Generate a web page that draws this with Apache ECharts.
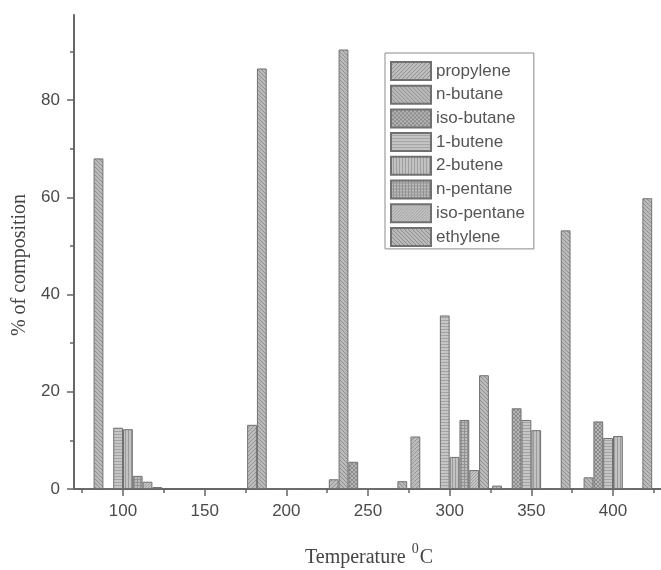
<!DOCTYPE html>
<html>
<head>
<meta charset="utf-8">
<script src="https://cdn.jsdelivr.net/npm/echarts@6/dist/echarts.min.js"></script>
<style>
html,body{margin:0;padding:0;background:#fff;}
#chart{width:661px;height:570px;}
</style>
</head>
<body>
<div id="chart"></div>
<script>
// ---- data ----
const temps = [100, 200, 250, 300, 350, 400];
const seriesNames = ['propylene','n-butane','iso-butane','1-butene','2-butene','n-pentane','iso-pentane','ethylene'];
const propylene  = [0, 13.2, 2.0, 10.8, 0.7, 0];
const nButane    = [68.0, 86.5, 90.4, 0, 0, 2.4];
const isoButane  = [0, 0, 5.6, 0, 16.6, 13.9];
const butene1    = [12.6, 0, 0, 35.7, 14.2, 10.5];
const butene2    = [12.3, 0, 0, 6.6, 12.1, 10.9];
const nPentane   = [2.7, 0, 0, 14.2, 0, 0];
const isoPentane = [1.5, 0.2, 0, 3.9, 0, 0];
const ethylene   = [0.4, 0, 1.6, 23.4, 53.2, 59.8];
const xTicksMajor = [100, 150, 200, 250, 300, 350, 400];
const yTicksMajor = [0, 20, 40, 60, 80];

const allValues = [propylene, nButane, isoButane, butene1, butene2, nPentane, isoPentane, ethylene];

// ---- hatch patterns ----
function makePattern(kind, step, bg, fg) {
  const c = document.createElement('canvas');
  c.width = step; c.height = step;
  const g = c.getContext('2d');
  g.fillStyle = bg; g.fillRect(0, 0, step, step);
  g.strokeStyle = fg; g.lineWidth = 1;
  const n = step;
  g.beginPath();
  if (kind === 'fwd' || kind === 'cross') {
    g.moveTo(0, n); g.lineTo(n, 0);
    g.moveTo(-1, 1); g.lineTo(1, -1);
    g.moveTo(n - 1, n + 1); g.lineTo(n + 1, n - 1);
  }
  if (kind === 'back' || kind === 'cross') {
    g.moveTo(0, 0); g.lineTo(n, n);
    g.moveTo(-1, n - 1); g.lineTo(1, n + 1);
    g.moveTo(n - 1, -1); g.lineTo(n + 1, 1);
  }
  if (kind === 'horiz' || kind === 'grid') {
    g.moveTo(0, n - 0.5); g.lineTo(n, n - 0.5);
  }
  if (kind === 'vert' || kind === 'grid') {
    g.moveTo(n - 0.5, 0); g.lineTo(n - 0.5, n);
  }
  g.stroke();
  return { image: c, repeat: 'repeat' };
}
const patterns = [
  makePattern('fwd', 4, '#bdbdbd', '#939393'),
  makePattern('back', 4, '#bababa', '#8f8f8f'),
  makePattern('cross', 4, '#b5b5b5', '#8c8c8c'),
  makePattern('horiz', 3, '#c6c6c6', '#a2a2a2'),
  makePattern('vert', 3, '#c2c2c2', '#9c9c9c'),
  makePattern('grid', 3, '#bcbcbc', '#929292'),
  makePattern('fwd', 3, '#c4c4c4', '#a0a0a0'),
  makePattern('back', 4, '#bababa', '#8f8f8f')
];

// ---- layout ----
const X0 = 74, XW = 588, XMIN = 70, XMAX = 430;
const YBOT = 489, YH = 474, YMAX = 97.5;
const sx = XW / (XMAX - XMIN);
const sy = YH / YMAX;
const gMajorLeft = X0 + (100 - XMIN) * sx;
const gMinorLeft = X0 + (75 - XMIN) * sx;

const axisColor = '#666';
const labelFont = { fontFamily: 'Liberation Sans, Arial, sans-serif', fontSize: 17, color: '#4a4a4a' };

const series = seriesNames.map((name, k) => ({
  name: name,
  type: 'bar',
  xAxisIndex: 0, yAxisIndex: 0,
  barWidth: 6 * sx,
  barGap: '0%',
  itemStyle: { color: patterns[k], borderColor: '#707070', borderWidth: 1 },
  data: temps.map((t, i) => [t, allValues[k][i]])
}));

const chart = echarts.init(document.getElementById('chart'), null, { renderer: 'canvas' });
chart.setOption({
  animation: false,
  backgroundColor: '#fff',
  grid: [
    { left: X0, top: YBOT - YH, width: XW, height: YH, outerBoundsMode: 'none' },
    { left: gMajorLeft, top: YBOT - 80 * sy, width: 300 * sx, height: 80 * sy, outerBoundsMode: 'none' },
    { left: gMinorLeft, top: YBOT - 90 * sy, width: 350 * sx, height: 80 * sy, outerBoundsMode: 'none' }
  ],
  xAxis: [
    { gridIndex: 0, type: 'value', min: XMIN, max: XMAX,
      axisLine: { show: true, onZero: false, lineStyle: { color: axisColor, width: 2 } },
      axisTick: { show: false }, axisLabel: { show: false }, splitLine: { show: false } },
    { gridIndex: 1, type: 'value', min: xTicksMajor[0], max: xTicksMajor[xTicksMajor.length - 1], interval: 50,
      axisLine: { show: false, onZero: false },
      axisTick: { show: true, inside: false, length: 7, lineStyle: { color: axisColor, width: 1.5 } },
      axisLabel: Object.assign({ margin: 14 }, labelFont), splitLine: { show: false } },
    { gridIndex: 2, type: 'value', min: 75, max: 425, interval: 50, offset: 10 * sy,
      axisLine: { show: false, onZero: false },
      axisTick: { show: true, inside: false, length: 4, lineStyle: { color: axisColor, width: 1.5 } },
      axisLabel: { show: false }, splitLine: { show: false } }
  ],
  yAxis: [
    { gridIndex: 0, type: 'value', min: 0, max: YMAX,
      axisLine: { show: true, onZero: false, lineStyle: { color: axisColor, width: 2 } },
      axisTick: { show: false }, axisLabel: { show: false }, splitLine: { show: false } },
    { gridIndex: 1, type: 'value', min: yTicksMajor[0], max: yTicksMajor[yTicksMajor.length - 1], interval: 20,
      offset: gMajorLeft - X0,
      axisLine: { show: false, onZero: false },
      axisTick: { show: true, inside: false, length: 7, lineStyle: { color: axisColor, width: 1.5 } },
      axisLabel: Object.assign({ margin: 14 }, labelFont), splitLine: { show: false } },
    { gridIndex: 2, type: 'value', min: 10, max: 90, interval: 20,
      offset: gMinorLeft - X0,
      axisLine: { show: false, onZero: false },
      axisTick: { show: true, inside: false, length: 4, lineStyle: { color: axisColor, width: 1.5 } },
      axisLabel: { show: false }, splitLine: { show: false } }
  ],
  legend: {
    data: seriesNames,
    orient: 'vertical',
    left: 385, top: 53,
    padding: [8, 9, 2, 5],
    itemWidth: 40, itemHeight: 18, itemGap: 3.7,
    icon: 'rect',
    borderColor: '#8a8a8a', borderWidth: 1,
    textStyle: { fontFamily: 'Liberation Sans, Arial, sans-serif', fontSize: 17, color: '#555' }
  },
  graphic: [
    { type: 'text', x: 20, y: 265, rotation: Math.PI / 2,
      style: { text: '% of composition', fontFamily: 'Liberation Serif, Times New Roman, serif', fontSize: 20,
        fill: '#444', align: 'center', verticalAlign: 'middle' } },
    { type: 'text', x: 369, y: 568,
      style: { text: '{b|Temperature }{sup|0}{b|C}', align: 'center', verticalAlign: 'bottom',
        fill: '#444',
        rich: {
          b: { fontFamily: 'Liberation Serif, Times New Roman, serif', fontSize: 20, fill: '#444', verticalAlign: 'bottom' },
          sup: { fontFamily: 'Liberation Serif, Times New Roman, serif', fontSize: 14, fill: '#444', verticalAlign: 'bottom', padding: [0, 1, 12, 1] }
        } } }
  ],
  series: series
});
</script>
</body>
</html>
